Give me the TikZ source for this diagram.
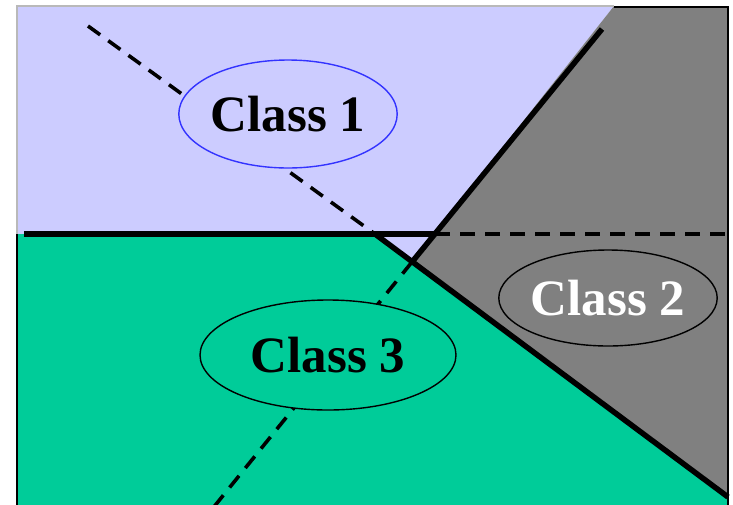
\documentclass[tikz,border=0pt]{standalone}
\usepackage{fontspec}
\setmainfont{Liberation Serif}
\definecolor{classone}{RGB}{204,204,255}
\definecolor{classtwo}{RGB}{128,128,128}
\definecolor{classthree}{RGB}{0,204,153}
\definecolor{ellipseblue}{RGB}{51,51,255}
\definecolor{framegray}{RGB}{185,185,185}
\usetikzlibrary{shapes.geometric}

\begin{document}
\begin{tikzpicture}[x=1pt, y=-1pt,
    boundary/.style={line width=5.5pt},
    pairwise/.style={line width=3.6pt, dash pattern=on 15pt off 10pt},
    classlabel/.style={ellipse, draw, line width=1.4pt, inner sep=0pt,
        font=\bfseries\fontsize{51}{60}\selectfont}]
    \useasboundingbox (0,0) rectangle (733,504);

    % corners of the frame and crossing points
    \coordinate (tl) at (17,6);
    \coordinate (tm) at (614,6);
    \coordinate (tr) at (728,6);
    \coordinate (ml) at (17,234);
    \coordinate (br) at (728,510);
    \coordinate (bl) at (17,510);
    \coordinate (p13) at (375,234);
    \coordinate (p12) at (435,234);
    \coordinate (p23) at (412,262);
    \coordinate (e3) at (728,497);

    % regions
    \fill[classone] (tl) -- (tm) -- (p23) -- (p13) -- (ml) -- cycle;
    \fill[classtwo] (tm) -- (tr) -- (e3) -- (p23) -- cycle;
    \fill[classthree] (ml) -- (p13) -- (e3) -- (br) -- (bl) -- cycle;

    % frame
    \draw[framegray, line width=1.5pt] (ml) -- (tl) -- (tm);
    \draw[line width=1.5pt] (614,7) -- (728,7) -- (br);
    \draw[line width=1.5pt] (ml) -- (bl);

    % class 1 vs class 3
    \draw[boundary] (24,234) -- (p12);
    \draw[pairwise] (p12) -- (728,234);

    % class 1 vs class 2
    \draw[boundary] (602,29) -- (p23);
    \draw[pairwise] (p23) -- (213,508);

    % class 2 vs class 3
    \draw[boundary] (p13) -- (e3);
    \draw[pairwise] (88,26) -- (p13);

    % labels
    \node[classlabel, draw=ellipseblue, fill=classone, minimum width=208pt, minimum height=108pt]
        (c1) at (288,114) {Class 1};
    \node[classlabel, fill=classtwo, text=white, minimum width=210pt, minimum height=96pt]
        (c2) at (608,298) {Class 2};
    \node[classlabel, fill=classthree, minimum width=256pt, minimum height=110pt]
        (c3) at (328,355) {Class 3};
\end{tikzpicture}
\end{document}
